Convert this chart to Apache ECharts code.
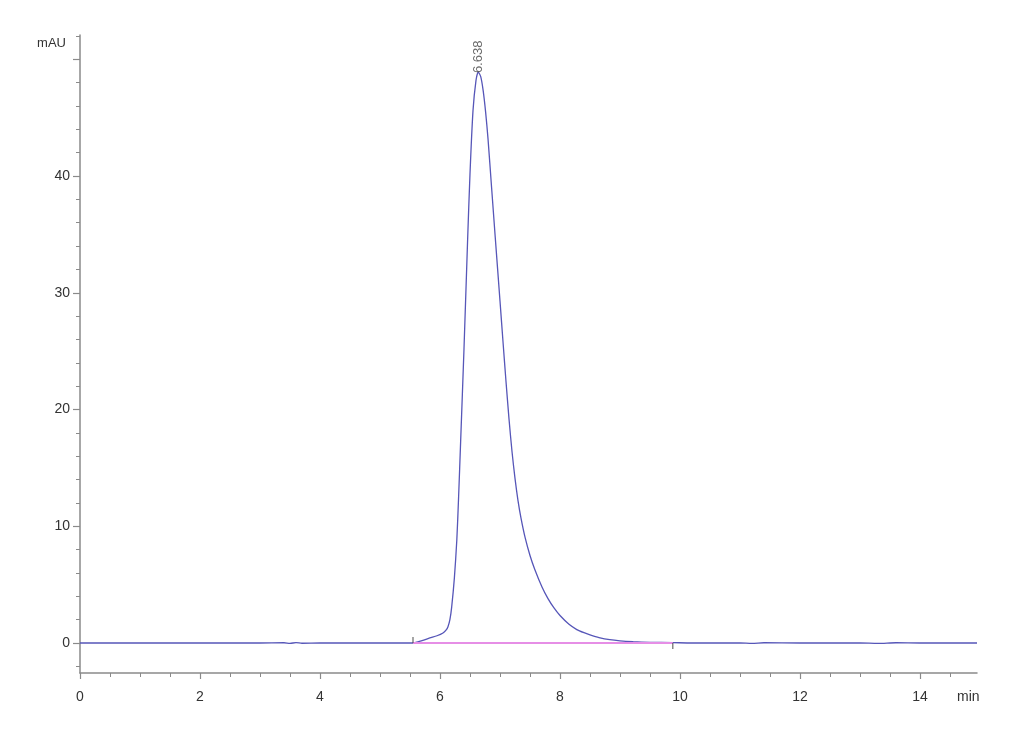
<!DOCTYPE html>
<html>
<head>
<meta charset="utf-8">
<script src="https://cdn.jsdelivr.net/npm/echarts@6/dist/echarts.min.js"></script>
<style>
html,body{margin:0;padding:0;background:#fff;}
#chart{width:1030px;height:755px;}
</style>
</head>
<body>
<div id="chart"></div>
<script>
// Retention time (min) and absorbance (mAU)
var times = [0, 1, 2, 3, 3.4, 3.5, 3.6, 3.7, 4, 5, 5.55, 5.7, 5.83, 5.95, 6.05, 6.1, 6.133, 6.165, 6.195, 6.24, 6.28, 6.31, 6.345, 6.4, 6.46, 6.5, 6.55, 6.6, 6.638, 6.68, 6.72, 6.76, 6.8, 6.86, 6.92, 7.0, 7.05, 7.1, 7.15, 7.2, 7.25, 7.3, 7.35, 7.42, 7.5, 7.58, 7.7, 7.8, 7.9, 8.0, 8.15, 8.28, 8.4, 8.5, 8.65, 8.83, 9.0, 9.22, 9.5, 9.88, 10.2, 11, 11.2, 11.4, 12, 13, 13.3, 13.6, 14, 14.95];
var mAU   = [0, 0, 0, 0, 0.02, -0.03, 0.03, -0.02, 0, 0, 0, 0.2, 0.43, 0.62, 0.86, 1.1, 1.4, 2.0, 3.1, 5.6, 8.8, 12.5, 17.4, 25.2, 34.5, 40.2, 45.6, 48.2, 48.9, 48.5, 47.3, 45.5, 43.2, 39.0, 34.8, 29.3, 25.8, 22.4, 19.2, 16.4, 14.1, 12.2, 10.7, 9.0, 7.5, 6.3, 4.8, 3.8, 3.0, 2.35, 1.6, 1.15, 0.88, 0.7, 0.47, 0.28, 0.18, 0.11, 0.06, 0.03, 0, 0, -0.03, 0.02, 0, 0, -0.03, 0.02, 0, 0];

// Integration baseline (start, end) and peak annotation
var baseTimes = [5.55, 9.88];
var baseValues = [0, 0];
var peakTime = 6.638;
var peakValue = 48.9;
var peakLabel = '6.638';

// Axis ticks and labels
var xMajor = [0, 2, 4, 6, 8, 10, 12, 14];
var xMinor = [0.5, 1, 1.5, 2.5, 3, 3.5, 4.5, 5, 5.5, 6.5, 7, 7.5, 8.5, 9, 9.5, 10.5, 11, 11.5, 12.5, 13, 13.5, 14.5];
var yMajor = [0, 10, 20, 30, 40, 50];
var yLabels = [0, 10, 20, 30, 40];
var yMinor = [-2, 2, 4, 6, 8, 12, 14, 16, 18, 22, 24, 26, 28, 32, 34, 36, 38, 42, 44, 46, 48, 52];
var xName = 'min';
var yName = 'mAU';

var X_MIN = 0, X_MAX = 14.95, Y_MIN = -2.57, Y_MAX = 52.08;

var curve = times.map(function (t, i) { return [t, mAU[i]]; });
var base = baseTimes.map(function (t, i) { return [t, baseValues[i]]; });

var font = 'Liberation Sans, Arial, sans-serif';
var axisColor = '#8a8a8a';
var textColor = '#333';

var chart = echarts.init(document.getElementById('chart'), null, {renderer: 'canvas'});
chart.setOption({
  animation: false,
  backgroundColor: '#fff',
  grid: {left: 80, right: 53, top: 35, bottom: 82, containLabel: false},
  xAxis: [{
    type: 'value', min: X_MIN, max: X_MAX, position: 'bottom',
    name: xName, nameLocation: 'end', nameGap: -20,
    nameTextStyle: {color: textColor, fontFamily: font, fontSize: 14, align: 'left', verticalAlign: 'top', padding: [17, 0, 0, 0]},
    axisLine: {show: true, onZero: false, lineStyle: {color: axisColor, width: 1.5}},
    axisTick: {show: true, length: 6, customValues: xMajor, lineStyle: {color: axisColor, width: 1.2}},
    axisLabel: {show: true, margin: 17, customValues: xMajor, color: textColor, fontFamily: font, fontSize: 14},
    splitLine: {show: false}
  }, {
    type: 'value', min: X_MIN, max: X_MAX, position: 'bottom',
    axisLine: {show: false, onZero: false},
    axisTick: {show: true, length: 4, customValues: xMinor, lineStyle: {color: axisColor, width: 1}},
    axisLabel: {show: false},
    splitLine: {show: false}
  }],
  yAxis: [{
    type: 'value', min: Y_MIN, max: Y_MAX, position: 'left',
    name: yName, nameLocation: 'end', nameGap: -8,
    nameTextStyle: {color: textColor, fontFamily: font, fontSize: 13, align: 'right', verticalAlign: 'middle', padding: [0, 14, 0, 0]},
    axisLine: {show: true, onZero: false, lineStyle: {color: axisColor, width: 1.5}},
    axisTick: {show: true, length: 7, customValues: yMajor, lineStyle: {color: axisColor, width: 1.2}},
    axisLabel: {show: true, margin: 10, customValues: yLabels, color: textColor, fontFamily: font, fontSize: 14},
    splitLine: {show: false}
  }, {
    type: 'value', min: Y_MIN, max: Y_MAX, position: 'left',
    axisLine: {show: false, onZero: false},
    axisTick: {show: true, length: 4, customValues: yMinor, lineStyle: {color: axisColor, width: 1}},
    axisLabel: {show: false},
    splitLine: {show: false}
  }],
  series: [{
    type: 'line', data: curve, showSymbol: false, symbol: 'none',
    smooth: 0.25,
    lineStyle: {color: '#5656b8', width: 1.3},
    z: 2
  }, {
    type: 'line', data: base, showSymbol: false, symbol: 'none',
    lineStyle: {color: '#e68ee6', width: 2.2},
    z: 3
  }, {
    type: 'scatter', z: 4,
    data: [
      {value: base[0], symbolOffset: [0, -3]},
      {value: base[1], symbolOffset: [0, 3]}
    ],
    symbol: 'rect', symbolSize: [1.2, 6],
    itemStyle: {color: '#444'}
  }, {
    type: 'scatter', z: 5,
    data: [[peakTime, peakValue]],
    symbolSize: 0,
    label: {
      show: true, formatter: peakLabel, position: 'top', distance: -1,
      rotate: 90, align: 'left', verticalAlign: 'middle',
      color: '#444', fontFamily: font, fontSize: 13
    }
  }]
});
</script>
</body>
</html>
